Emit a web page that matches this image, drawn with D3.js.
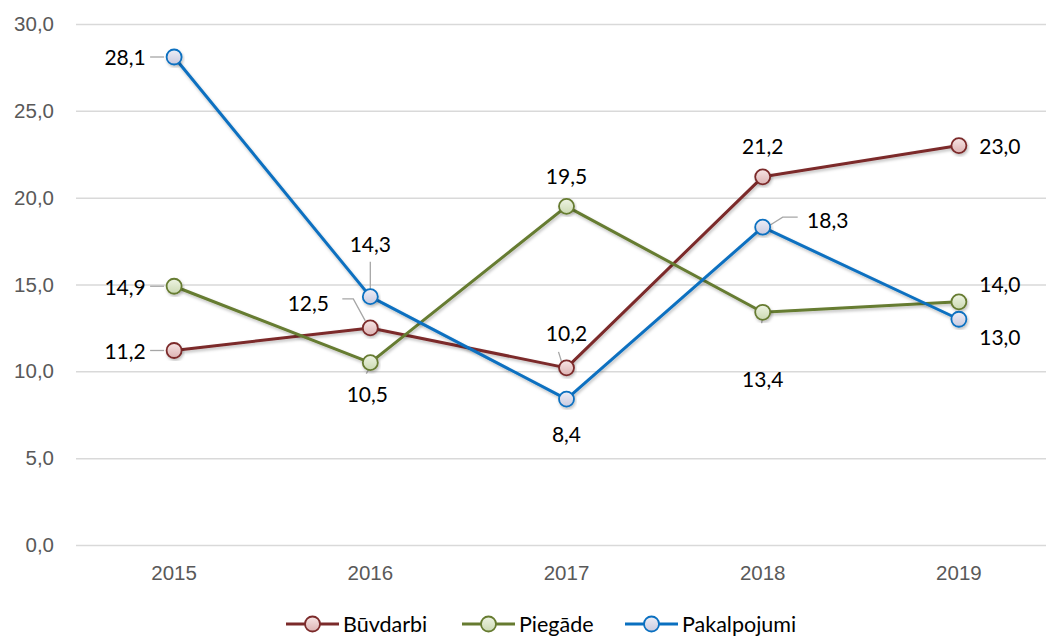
<!DOCTYPE html>
<html>
<head>
<meta charset="utf-8">
<script src="https://cdn.jsdelivr.net/npm/d3@7"></script>
<style>
  body { margin: 0; background: #fff; }
  svg { display: block; font-family: Lato, "Open Sans", sans-serif; }
  .tick text { fill: #595959; font-size: 20.5px; }
  .lbl { fill: #000; font-size: 21px; }
  .leg { fill: #000; font-size: 21.5px; }
</style>
</head>
<body>
<div id="chart"></div>
<script>
// data
var years = ["2015", "2016", "2017", "2018", "2019"];
var buvdarbi = [11.2, 12.5, 10.2, 21.2, 23.0];
var piegade = [14.9, 10.5, 19.5, 13.4, 14.0];
var pakalpojumi = [28.1, 14.3, 8.4, 18.3, 13.0];
var yTicks = [0, 5, 10, 15, 20, 25, 30];

var series = [
  { name: "Būvdarbi", values: buvdarbi, color: "#7b2a2a", light: "#f7e6e6", mid: "#dcb2b2" },
  { name: "Piegāde", values: piegade, color: "#667b30", light: "#eef4e3", mid: "#cbd9b2" },
  { name: "Pakalpojumi", values: pakalpojumi, color: "#0a70c0", light: "#eeeef6", mid: "#c9cadf" }
];

// where each data label sits relative to its marker (dx, dy) and its leader line
var labelPos = [
  [ {dx:-49, dy:0, lead:[[-24,0],[-10,0]]},
    {dx:-62, dy:-25, lead:[[-28,-29],[-17,-29],[-5,-7]]},
    {dx:0, dy:-35, lead:[[-8,-16],[-4,-3]]},
    {dx:0, dy:-31},
    {dx:41, dy:0} ],
  [ {dx:-49, dy:0, lead:[[-24,0],[-10,0]]},
    {dx:-3, dy:31, lead:[[0,4],[-4,11]]},
    {dx:0, dy:-31},
    {dx:0, dy:66, lead:[[0,3],[-1,11]]},
    {dx:41, dy:-18} ],
  [ {dx:-49, dy:0, lead:[[-24,0],[-10,0]]},
    {dx:0, dy:-53, lead:[[0,-35],[0,-7]]},
    {dx:0, dy:34},
    {dx:65, dy:-8, lead:[[35,-10],[20,-10],[4,0]]},
    {dx:41, dy:17} ]
];

var W = 1046, H = 639;
var svg = d3.select("#chart").append("svg").attr("width", W).attr("height", H);

var x = d3.scaleBand().domain(years).range([76, 1057]);
var y = d3.scaleLinear().domain([0, 30]).range([545, 24]);
var fmt = function(v) { return d3.format(".1f")(v).replace(".", ","); };

var defs = svg.append("defs");
var f = defs.append("filter").attr("id", "shadow")
  .attr("x", "-20%").attr("y", "-20%").attr("width", "140%").attr("height", "140%");
f.append("feDropShadow").attr("dx", 1).attr("dy", 2).attr("stdDeviation", 1.5)
  .attr("flood-color", "#000").attr("flood-opacity", 0.25);

series.forEach(function(s, i) {
  var g = defs.append("linearGradient").attr("id", "grad" + i)
    .attr("x1", 0).attr("y1", 0).attr("x2", 0).attr("y2", 1);
  g.append("stop").attr("offset", "0%").attr("stop-color", s.light);
  g.append("stop").attr("offset", "100%").attr("stop-color", s.mid);
});

// gridlines
svg.append("g")
  .attr("transform", "translate(76,0)")
  .call(d3.axisLeft(y).tickValues(yTicks).tickSize(-(W - 76)).tickPadding(22).tickFormat(fmt))
  .call(function(g) {
    g.select(".domain").remove();
    g.selectAll(".tick line").attr("stroke", "#d9d9d9").attr("stroke-width", 1.5);
  });

// x axis labels
svg.append("g")
  .attr("transform", "translate(0,545)")
  .call(d3.axisBottom(x).tickSize(0).tickPadding(20))
  .call(function(g) { g.select(".domain").remove(); });

var cx = function(d, i) { return x(years[i]) + x.bandwidth() / 2; };
var line = d3.line().x(cx).y(function(d) { return y(d); });

series.forEach(function(s, si) {
  var g = svg.append("g");
  g.append("path").datum(s.values)
    .attr("d", line).attr("fill", "none")
    .attr("stroke", s.color).attr("stroke-width", 3)
    .attr("stroke-linejoin", "round")
    .attr("filter", "url(#shadow)");
});

// leader lines
series.forEach(function(s, si) {
  s.values.forEach(function(v, i) {
    var p = labelPos[si][i];
    if (!p.lead) return;
    var px = cx(v, i), py = y(v);
    svg.append("polyline")
      .attr("points", p.lead.map(function(q) { return (px + q[0]) + "," + (py + q[1]); }).join(" "))
      .attr("fill", "none").attr("stroke", "#a6a6a6").attr("stroke-width", 1.3);
  });
});

// markers
series.forEach(function(s, si) {
  svg.append("g").selectAll("circle").data(s.values).join("circle")
    .attr("cx", cx).attr("cy", function(d) { return y(d); })
    .attr("r", 7.5)
    .attr("fill", "url(#grad" + si + ")")
    .attr("stroke", s.color).attr("stroke-width", 1.8)
    .attr("filter", "url(#shadow)");
});

// data labels
series.forEach(function(s, si) {
  svg.append("g").selectAll("text").data(s.values).join("text")
    .attr("class", "lbl")
    .attr("x", function(d, i) { return cx(d, i) + labelPos[si][i].dx; })
    .attr("y", function(d, i) { return y(d) + labelPos[si][i].dy; })
    .attr("text-anchor", "middle").attr("dominant-baseline", "central")
    .text(fmt);
});

// legend
var legX = [286, 462, 625];
var leg = svg.append("g").attr("transform", "translate(0,624)");
series.forEach(function(s, si) {
  var lg = leg.append("g").attr("transform", "translate(" + legX[si] + ",0)");
  lg.append("line").attr("x1", 0).attr("x2", 53).attr("y1", 0).attr("y2", 0)
    .attr("stroke", s.color).attr("stroke-width", 3);
  lg.append("circle").attr("cx", 26.5).attr("cy", 0).attr("r", 7.5)
    .attr("fill", "url(#grad" + si + ")").attr("stroke", s.color).attr("stroke-width", 1.8);
  lg.append("text").attr("class", "leg").attr("x", 57).attr("y", 0)
    .attr("dominant-baseline", "central").text(s.name);
});
</script>
</body>
</html>
